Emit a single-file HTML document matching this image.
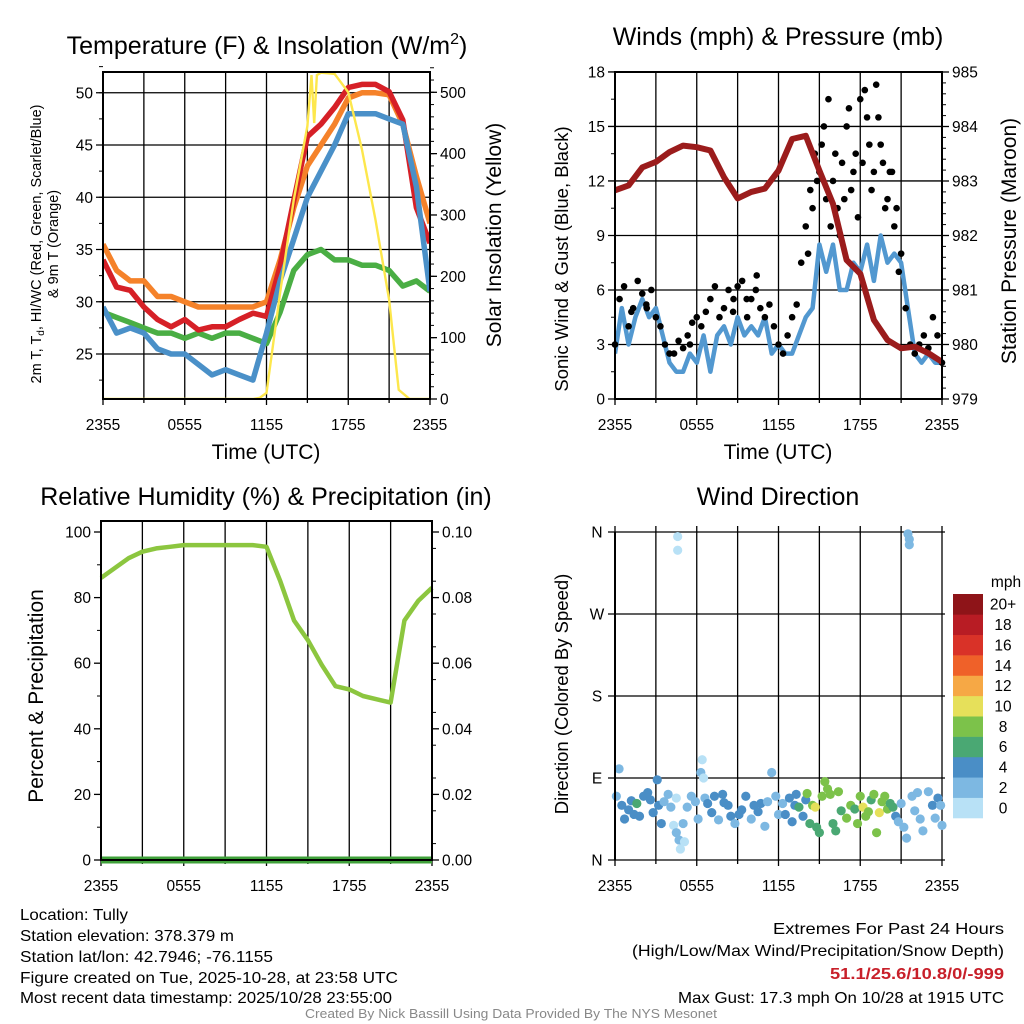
<!DOCTYPE html>
<html><head><meta charset="utf-8"><style>
html,body{margin:0;padding:0;background:#fff;}
svg{display:block;font-family:"Liberation Sans",sans-serif;}
</style></head><body>
<svg id="chart" width="1024" height="1024" viewBox="0 0 1024 1024"></svg>
<script>
// ---------- DATA ----------
const hours = [0,1,2,3,4,5,6,7,8,9,10,11,12,13,14,15,16,17,18,19,20,21,22,23,24];
const xTickLabels = ["2355","0555","1155","1755","2355"];
const tempRed    = [34,31.4,31.1,29.5,28.3,27.6,28.3,27.3,27.6,27.6,28.3,28.9,28.6,33.4,39.7,45.8,47,48.6,50.5,50.8,50.8,50.1,47.4,39,35.6];
const tempOrange = [35.5,33,32,32,30.5,30.5,30,29.5,29.5,29.5,29.5,29.5,30,34,39,43,45,47,49.5,50,50,49.8,47,42,37.5];
const tempBlue   = [29.5,27,27.5,27,25.5,25,25,24,23,23.5,23,22.5,27,32,36,40,42.5,45,48,48,48,47.5,47,41,31];
const tempGreen  = [29,28.5,28,27.5,27,27,26.5,27,26.5,27,27,26.5,26,29,33,34.5,35,34,34,33.5,33.5,33,31.5,32,31];
const solarHours = [0,11,11.5,12,13,14,15,15.3,15.5,15.7,16,17,18,19,20,21,21.7,22.5,24];
const solarVals  = [0,0,2,10,173,325,445,528,450,528,532,530,500,407,292,162,15,0,0];
const tempTicks = [25,30,35,40,45,50];
const solarTicks = [0,100,200,300,400,500];
const pressure = [982.83,982.92,983.25,983.35,983.53,983.65,983.62,983.56,983.07,982.68,982.8,982.86,983.19,983.77,983.83,983.19,982.58,981.55,981.3,980.45,980.08,979.93,979.96,979.84,979.68];
const windHours = [0,0.5,1,1.5,2,2.5,3,3.5,4,4.5,5,5.5,6,6.5,7,7.5,8,8.5,9,9.5,10,10.5,11,11.5,12,12.5,13,13.5,14,14.5,15,15.5,16,16.5,17,17.5,18,18.5,19,19.5,20,20.5,21,21.5,22,22.5,23,23.5,24];
const windVals  = [2.5,5,3,4.5,5.5,4.5,5,3.5,2,1.5,1.5,2.5,2,3.5,1.5,3.5,4,3,4.5,3.5,4,3.5,4.5,2.5,3,2.5,2.5,3.5,4.5,5,8.5,7,8.5,6,6,7.5,7,8.5,6.5,9,7.5,8,7.5,5,2.5,2,2.5,2,2];
const gustVals = [3,5.5,6.2,4,5,6.5,5.8,5,6,4.5,4,3,2.5,2.5,3.2,2.8,3.5,4.2,4.5,4,4.8,5.5,6.2,4.5,5,6,4.8,6.2,6.5,5.5,5.5,6,5,4.5,5.2,4,3,2.5,3.5,4.5,5.2,7.5,9.5,11.5,13.5,12.5,15,16.5,12,10.5,13,15,11.5,13.5,16.5,17,14,12.5,15.5,13,11,12.5,10.5,8,5,3,2.5,3,3.5,2.8,4.5,3.5,2];
const gustExtraHours = [14.17,14.5,14.83,15.17,15.5,15.83,16.17,16.5,16.83,17.17,17.5,17.83,18.17,18.5,18.83,19.17,19.5,19.83,20.17,20.5,20.83,5.5,8.7,9.7,10.4,2.3,1.2];
const gustExtraVals  = [8,10.5,12,14,11,9.5,13.5,9,11,16,12.5,10,13,15.5,11.5,17.3,14,10.5,12.5,9.5,7,3,5.5,4.5,6.8,5.2,4.8];
const windTicks = [0,3,6,9,12,15,18];
const presTicks = [979,980,981,982,983,984,985];
const rh = [86,89,92,94,95,95.5,96,96,96,96,96,96,95.5,85,73,67,59.5,53,52,50,49,48,73,79,83];
const precip = [0,0,0,0,0,0,0,0,0,0,0,0,0,0,0,0,0,0,0,0,0,0,0,0,0];
const rhTicks = [0,20,40,60,80,100];
const precipTicks = ["0.00","0.02","0.04","0.06","0.08","0.10"];
const dirHours = [0.1,0.3,0.5,0.7,1,1.2,1.4,1.6,1.8,2.1,2.4,2.6,2.8,3.1,3.2,3.4,3.6,3.9,4.1,4.3,4.5,4.5,4.7,4.8,5,5.1,4.6,4.6,5.3,5.6,5.9,6.1,6.3,6.4,6.5,6.6,6.8,7.1,7.3,7.6,7.9,8,8.3,8.5,8.8,9.1,9.3,9.6,10,10.2,10.5,10.7,11,11.2,11.5,11.8,12,12.3,12.5,12.8,13,13.2,13.3,13.5,13.8,14,14.1,14.3,14.5,14.7,14.8,15,15.2,15.4,15.6,15.8,16,16.2,16.4,16.6,17,17.3,17.6,17.8,18,18.2,18.4,18.6,18.8,19,19.2,19.4,19.6,19.8,20,20.2,20.4,20.6,20.8,21,21.2,21.4,21.5,21.6,21.6,21.8,22,22.2,22.4,22.6,23,23.3,23.5,23.7,24,23.9];
const dirDeg = [70,100,60,45,55,65,50,62,48,70,74,66,52,88,60,40,64,72,58,38,68,30,22,12,40,20,355,340,58,70,64,45,96,110,90,68,62,52,70,44,72,63,60,48,40,50,55,70,45,60,53,62,37,64,96,70,50,62,50,68,42,60,72,58,48,66,73,40,60,58,36,30,70,86,78,72,40,32,75,54,46,60,56,40,70,58,48,53,66,72,30,52,64,70,56,62,58,48,42,62,36,24,358,352,346,70,54,74,45,32,75,60,46,68,38,60];
const dirSpeed = [3,3,4,4,5,4,5,7,4,5,5,5,4,4,5,5,3,3,3,1,1,3,3,1,3,1,1,1,3,3,3,3,2,1,1,3,4,4,4,3,5,5,4,4,3,5,4,4,3,4,5,5,3,3,3,2,3,3,4,5,4,4,4,6,5,5,8,6,8,10,6,6,8,8,8,9,6,6,8,7,8,8,7,8,9,10,8,8,7,8,8,10,8,8,8,7,7,4,3,3,3,3,2,2,3,2,3,3,3,3,3,4,3,4,3,3];
const dirTicks = ["N","E","S","W","N"];
const cbLabels = ["0","2","4","6","8","10","12","14","16","18","20+"];
const cbColors = ["#b8e1f6","#7db8e2","#4a8ec6","#4aa873","#7cc24a","#e6e05a","#f6a845","#ef6129","#d93228","#b81c24","#8e1418"];

// ---------- HELPERS ----------
const NS = "http://www.w3.org/2000/svg";
const svg = document.getElementById("chart");
function mk(tag, attrs, parent) {
  const e = document.createElementNS(NS, tag);
  for (const k in attrs) e.setAttribute(k, attrs[k]);
  (parent || svg).appendChild(e);
  return e;
}
function txt(s, x, y, size, anchor, parent, extra) {
  const t = mk("text", Object.assign({x: x, y: y, "font-size": size, "text-anchor": anchor || "middle", fill: "#000"}, extra || {}), parent);
  t.textContent = s;
  return t;
}
function pathFrom(xs, ys, fx, fy) {
  let d = "";
  for (let i = 0; i < xs.length; i++) d += (i ? "L" : "M") + fx(xs[i]).toFixed(1) + "," + fy(ys[i]).toFixed(1);
  return d;
}
const TICK = 15.5, TITLE = 25, AX = 21;

// ---------- PANEL 1: TEMPERATURE ----------
(function () {
  const g = mk("g", {});
  
  
  const x0 = 103, x1 = 430, yT = 72, yB = 399;
  const fx = h => x0 + (x1 - x0) * h / 24;
  const fy = T => 354 - (T - 25) * 10.45;
  const fs = S => 399 - S * 0.6134;
  for (let h = 0; h <= 24; h += 3) mk("line", {x1: fx(h), y1: yT, x2: fx(h), y2: yB + (h % 6 === 0 ? 6 : 4), stroke: "#000", "stroke-width": 1.3}, g);
  for (let T = 22.5; T <= 52.5; T += 2.5) mk("line", {x1: x0 - 4, y1: fy(T), x2: x0, y2: fy(T), stroke: "#000", "stroke-width": 1}, g);
  tempTicks.forEach(T => {
    mk("line", {x1: x0 - 7, y1: fy(T), x2: x1, y2: fy(T), stroke: "#000", "stroke-width": 1.3}, g);
    const t = txt(String(T), x0 - 10, fy(T) + 5.5, TICK, "end", g);
    
    
  });
  for (let S = 0; S <= 540; S += 20) mk("line", {x1: x1, y1: fs(S), x2: x1 + 4, y2: fs(S), stroke: "#000", "stroke-width": 1}, g);
  solarTicks.forEach(S => {
    mk("line", {x1: x1, y1: fs(S), x2: x1 + 7, y2: fs(S), stroke: "#000", "stroke-width": 1.3}, g);
    const t = txt(String(S), x1 + 10, fs(S) + 5.5, TICK, "start", g);
    
    
  });
  const clip = mk("clipPath", {id: "c1"}, g);
  mk("rect", {x: x0, y: yT, width: x1 - x0, height: yB - yT}, clip);
  const series = [[tempGreen, "#4aae44", "green-dewpoint-line"], [tempOrange, "#f5822a", "orange-9m-temp-line"], [tempRed, "#d62027", "red-2m-temp-line"], [tempBlue, "#4a90c8", "blue-windchill-line"]];
  series.forEach(s => {
    const p = mk("path", {d: pathFrom(hours, s[0], fx, fy), fill: "none", stroke: s[1], "stroke-width": 5.5, "stroke-linejoin": "round", "clip-path": "url(#c1)"}, g);
    
    
  });
  const sp = mk("path", {d: pathFrom(solarHours, solarVals, fx, fs), fill: "none", stroke: "#fde74c", "stroke-width": 2.4, "clip-path": "url(#c1)"}, g);
  
  
  mk("rect", {x: x0, y: yT, width: x1 - x0, height: yB - yT, fill: "none", stroke: "#000", "stroke-width": 2}, g);
  xTickLabels.forEach((l, i) => {
    const t = txt(l, fx(i * 6), 430, TICK, "middle", g);
    
    
  });
  const title = mk("text", {x: 267, y: 54, "font-size": TITLE, "text-anchor": "middle"}, g);
  title.innerHTML = 'Temperature (F) &amp; Insolation (W/m<tspan dy="-10" font-size="16">2</tspan><tspan dy="10">)</tspan>';
  
  
  const xl = txt("Time (UTC)", 266, 459, AX, "middle", g);
  
  
  const yl = mk("text", {transform: "translate(41,244) rotate(-90)", "font-size": 14.5, "text-anchor": "middle"}, g);
  yl.innerHTML = '2m T, T<tspan dy="3" font-size="10">d</tspan><tspan dy="-3">, HI/WC (Red, Green, Scarlet/Blue)</tspan>';
  
  
  const yl2 = txt("& 9m T (Orange)", 0, 0, 14.5, "middle", g, {transform: "translate(58,244) rotate(-90)"});
  
  
  const yr = txt("Solar Insolation (Yellow)", 0, 0, AX, "middle", g, {transform: "translate(501,235) rotate(-90)"});
  
  
})();

// ---------- PANEL 2: WINDS ----------
(function () {
  const g = mk("g", {});
  
  
  const x0 = 615, x1 = 942, yT = 72, yB = 399;
  const fx = h => x0 + (x1 - x0) * h / 24;
  const fy = w => 399 - w * 18.17;
  const fp = p => 399 - (p - 979) * 54.5;
  for (let h = 0; h <= 24; h += 3) mk("line", {x1: fx(h), y1: yT, x2: fx(h), y2: yB + (h % 6 === 0 ? 6 : 4), stroke: "#000", "stroke-width": 1.3}, g);
  for (let w = 1.5; w < 18; w += 3) mk("line", {x1: x0 - 4, y1: fy(w), x2: x0, y2: fy(w), stroke: "#000", "stroke-width": 1}, g);
  windTicks.forEach(w => {
    mk("line", {x1: x0 - 7, y1: fy(w), x2: x1, y2: fy(w), stroke: "#000", "stroke-width": 1.3}, g);
    const t = txt(String(w), x0 - 10, fy(w) + 5.5, TICK, "end", g);
    
    
  });
  for (let p = 979; p <= 985.01; p += 0.2) mk("line", {x1: x1, y1: fp(p), x2: x1 + 4, y2: fp(p), stroke: "#000", "stroke-width": 1}, g);
  presTicks.forEach(p => {
    mk("line", {x1: x1, y1: fp(p), x2: x1 + 7, y2: fp(p), stroke: "#000", "stroke-width": 1.3}, g);
    const t = txt(String(p), x1 + 10, fp(p) + 5.5, TICK, "start", g);
    
    
  });
  const clip = mk("clipPath", {id: "c2"}, g);
  mk("rect", {x: x0, y: yT, width: x1 - x0, height: yB - yT}, clip);
  const wp = mk("path", {d: pathFrom(windHours, windVals, fx, fy), fill: "none", stroke: "#5298d0", "stroke-width": 4.5, "stroke-linejoin": "round", "clip-path": "url(#c2)"}, g);
  
  
  gustVals.forEach((v, i) => {
    const c = mk("circle", {cx: fx(i / 3), cy: fy(v), r: 3.3, fill: "#000"}, g);
    
    
  });
  gustExtraVals.forEach((v, i) => {
    const c = mk("circle", {cx: fx(gustExtraHours[i]), cy: fy(v), r: 3.3, fill: "#000"}, g);
    
    
  });
  const pp = mk("path", {d: pathFrom(hours, pressure, fx, fp), fill: "none", stroke: "#9b1c1c", "stroke-width": 6, "stroke-linejoin": "round", "clip-path": "url(#c2)"}, g);
  
  
  mk("rect", {x: x0, y: yT, width: x1 - x0, height: yB - yT, fill: "none", stroke: "#000", "stroke-width": 2}, g);
  xTickLabels.forEach((l, i) => {
    const t = txt(l, fx(i * 6), 430, TICK, "middle", g);
    
    
  });
  const title = txt("Winds (mph) & Pressure (mb)", 778, 45, TITLE, "middle", g);
  
  
  const xl = txt("Time (UTC)", 778, 459, AX, "middle", g);
  
  
  const yl = txt("Sonic Wind & Gust (Blue, Black)", 0, 0, 18.5, "middle", g, {transform: "translate(568,259) rotate(-90)"});
  
  
  const yr = txt("Station Pressure (Maroon)", 0, 0, AX, "middle", g, {transform: "translate(1016,241) rotate(-90)"});
  
  
})();

// ---------- PANEL 3: HUMIDITY ----------
(function () {
  const g = mk("g", {});
  
  
  const x0 = 101, x1 = 432, yT = 521, yB = 860;
  const fx = h => x0 + (x1 - x0) * h / 24;
  const fy = r => 860 - r * 3.28;
  for (let h = 0; h <= 24; h += 3) mk("line", {x1: fx(h), y1: yT, x2: fx(h), y2: yB + (h % 6 === 0 ? 6 : 4), stroke: "#000", "stroke-width": 1.3}, g);
  for (let r = 10; r < 100; r += 20) mk("line", {x1: x0 - 4, y1: fy(r), x2: x0, y2: fy(r), stroke: "#000", "stroke-width": 1}, g);
  rhTicks.forEach((r, i) => {
    mk("line", {x1: x0 - 7, y1: fy(r), x2: x0, y2: fy(r), stroke: "#000", "stroke-width": 1.3}, g);
    mk("line", {x1: x1, y1: fy(r), x2: x1 + 7, y2: fy(r), stroke: "#000", "stroke-width": 1.3}, g);
    const t = txt(String(r), x0 - 10, fy(r) + 5.5, TICK, "end", g);
    
    
    const t2 = txt(precipTicks[i], x1 + 10, fy(r) + 5.5, TICK, "start", g);
    
    
  });
  for (let r = 5; r < 100; r += 10) mk("line", {x1: x1, y1: fy(r), x2: x1 + 4, y2: fy(r), stroke: "#000", "stroke-width": 1}, g);
  const rp = mk("path", {d: pathFrom(hours, rh, fx, fy), fill: "none", stroke: "#8cc63f", "stroke-width": 4.5, "stroke-linejoin": "round"}, g);
  
  
  const fpc = p => 860 - p * 3280;
  const pc = mk("path", {d: pathFrom(hours, precip, fx, fpc), fill: "none", stroke: "#3fa03a", "stroke-width": 7}, g);
  
  
  mk("rect", {x: x0, y: yT, width: x1 - x0, height: yB - yT, fill: "none", stroke: "#000", "stroke-width": 2}, g);
  xTickLabels.forEach((l, i) => {
    const t = txt(l, fx(i * 6), 891, TICK, "middle", g);
    
    
  });
  const title = txt("Relative Humidity (%) & Precipitation (in)", 266, 505, TITLE, "middle", g);
  
  
  const yl = txt("Percent & Precipitation", 0, 0, AX, "middle", g, {transform: "translate(43,696) rotate(-90)"});
  
  
})();

// ---------- PANEL 4: WIND DIRECTION ----------
(function () {
  const g = mk("g", {});
  
  
  const x0 = 615, x1 = 942, yT = 532, yB = 860;
  const fx = h => x0 + (x1 - x0) * h / 24;
  const fy = d => 860 - d / 360 * (yB - yT);
  for (let h = 0; h <= 24; h += 3) mk("line", {x1: fx(h), y1: yT - 6, x2: fx(h), y2: yB + (h % 6 === 0 ? 6 : 4), stroke: "#000", "stroke-width": 1.3}, g);
  dirTicks.forEach((l, i) => {
    mk("line", {x1: x0 - 7, y1: fy(i * 90), x2: x1 + 3, y2: fy(i * 90), stroke: "#000", "stroke-width": 1.3}, g);
    const t = txt(l, x0 - 18, fy(i * 90) + 5.5, TICK, "middle", g);
    
    
  });
  const colorFor = s => cbColors[Math.min(10, Math.floor(s / 2))];
  dirDeg.forEach((d, i) => {
    const c = mk("circle", {cx: fx(dirHours[i]), cy: fy(d), r: 4.6, fill: colorFor(dirSpeed[i])}, g);
    
    
  });
  mk("line", {x1: x0, y1: yT, x2: x0, y2: yB, stroke: "#000", "stroke-width": 2}, g);
  xTickLabels.forEach((l, i) => {
    const t = txt(l, fx(i * 6), 891, TICK, "middle", g);
    
    
  });
  const title = txt("Wind Direction", 778, 505, TITLE, "middle", g);
  
  
  const yl = txt("Direction (Colored By Speed)", 0, 0, 18.5, "middle", g, {transform: "translate(568,694) rotate(-90)"});
  
  
  const cb = mk("g", {}, g);
  
  
  const cbTop = 594, cbBot = 818, bh = (cbBot - cbTop) / cbColors.length;
  cbColors.forEach((c, i) => {
    const r = mk("rect", {x: 953, y: cbBot - (i + 1) * bh, width: 30, height: bh + 0.3, fill: c}, cb);
    
    
    const t = txt(cbLabels[i], 1003, cbBot - (i + 0.5) * bh + 5.5, TICK, "middle", cb);
    
    
  });
  const u = txt("mph", 1006, 587, TICK, "middle", cb);
  
  
})();

// ---------- FOOTER ----------
(function () {
  const g = mk("g", {});
  
  
  const left = [["Location: Tully", 915, 108], ["Station elevation: 378.379 m", 936, 214], ["Station lat/lon: 42.7946; -76.1155", 957, 253], ["Figure created on Tue, 2025-10-28, at 23:58 UTC", 978, 378], ["Most recent data timestamp: 2025/10/28 23:55:00", 998, 372]];
  left.forEach(l => {
    const t = txt(l[0], 20, l[1] + 5, 16, "start", g, {textLength: l[2], lengthAdjust: "spacingAndGlyphs"});
    
    
  });
  const right = [["Extremes For Past 24 Hours", 929, 231, "#000", "normal"], ["(High/Low/Max Wind/Precipitation/Snow Depth)", 951, 372, "#000", "normal"], ["51.1/25.6/10.8/0/-999", 974, 174, "#c8202a", "bold"], ["Max Gust: 17.3 mph On 10/28 at 1915 UTC", 998, 326, "#000", "normal"]];
  right.forEach(l => {
    const t = txt(l[0], 1004, l[1] + 5, 16, "end", g, {textLength: l[2], lengthAdjust: "spacingAndGlyphs", fill: l[3], "font-weight": l[4]});
    
    
  });
  const c = txt("Created By Nick Bassill Using Data Provided By The NYS Mesonet", 511, 1018, 12.5, "middle", g, {fill: "#888", textLength: 412, lengthAdjust: "spacingAndGlyphs"});
  
  
})();
</script>
</body></html>
